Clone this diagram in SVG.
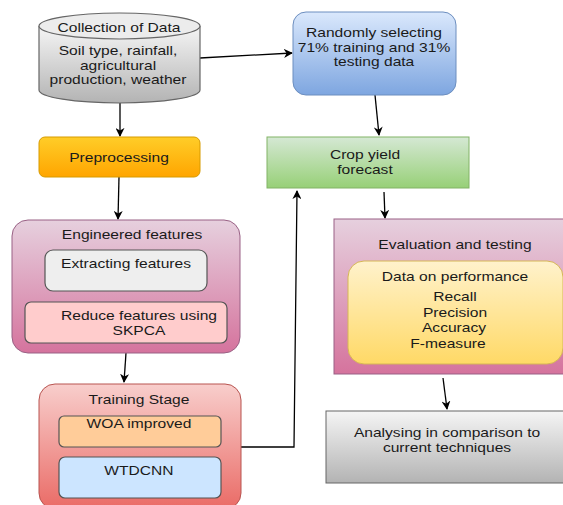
<svg xmlns="http://www.w3.org/2000/svg" width="563" height="505" viewBox="0 0 563 505">
<style>
text{font-family:"Liberation Sans",Arial,sans-serif;font-size:13px;fill:#1a1a1a;text-anchor:middle}
.c{fill:none;stroke:#000;stroke-width:1.3}
.in{stroke:#555;stroke-width:1.2}
</style>
<defs>
<marker id="ah" viewBox="0 0 10 10" refX="9" refY="5" markerWidth="9" markerHeight="9" markerUnits="userSpaceOnUse" orient="auto">
<path d="M0,0 L10,5 L0,10 L3,5 Z" fill="#000"/>
</marker>
<linearGradient id="gGray" x1="0" y1="0" x2="0" y2="1"><stop offset="0" stop-color="#f5f5f5"/><stop offset="1" stop-color="#b3b3b3"/></linearGradient>
<linearGradient id="gOrange" x1="0" y1="0" x2="0" y2="1"><stop offset="0" stop-color="#ffcd28"/><stop offset="1" stop-color="#ffa500"/></linearGradient>
<linearGradient id="gPink" x1="0" y1="0" x2="0" y2="1"><stop offset="0" stop-color="#e6d0de"/><stop offset="1" stop-color="#d5739d"/></linearGradient>
<linearGradient id="gRed" x1="0" y1="0" x2="0" y2="1"><stop offset="0" stop-color="#f8cecc"/><stop offset="1" stop-color="#ea6b66"/></linearGradient>
<linearGradient id="gBlue" x1="0" y1="0" x2="0" y2="1"><stop offset="0" stop-color="#dae8fc"/><stop offset="1" stop-color="#7ea6e0"/></linearGradient>
<linearGradient id="gGreen" x1="0" y1="0" x2="0" y2="1"><stop offset="0" stop-color="#d5e8d4"/><stop offset="1" stop-color="#97d077"/></linearGradient>
<linearGradient id="gYellow" x1="0" y1="0" x2="0" y2="1"><stop offset="0" stop-color="#fff2cc"/><stop offset="1" stop-color="#ffd966"/></linearGradient>
</defs>
<rect width="563" height="505" fill="#fff"/>

<g id="connectors">
<path class="c" d="M200,58 L292,53" marker-end="url(#ah)"/>
<path class="c" d="M120,103 L120,136" marker-end="url(#ah)"/>
<path class="c" d="M119,177 L118,219" marker-end="url(#ah)"/>
<path class="c" d="M126,353 L124,382" marker-end="url(#ah)"/>
<path class="c" d="M241,447 L294,447 L297,191" marker-end="url(#ah)"/>
<path class="c" d="M375,95 L379,135" marker-end="url(#ah)"/>
<path class="c" d="M384,192 L385,218" marker-end="url(#ah)"/>
<path class="c" d="M443,378 L447,409" marker-end="url(#ah)"/>
</g>

<g id="collection">
<path d="M39,26 L39,90 A80.5,13 0 0 0 200,90 L200,26" fill="url(#gGray)" stroke="#666" stroke-width="1.2"/>
<ellipse cx="119.5" cy="26" rx="80.5" ry="13" fill="#ececec" stroke="#666" stroke-width="1.2"/>
<text transform="translate(119,32) scale(1.2,1)">Collection of Data</text>
<text transform="translate(118,55) scale(1.2,1)">Soil type, rainfall,</text>
<text transform="translate(118,69.5) scale(1.2,1)">agricultural</text>
<text transform="translate(118,84) scale(1.2,1)">production, weather</text>
</g>

<g id="preprocessing">
<rect x="39" y="137" width="161" height="40" rx="6" fill="url(#gOrange)" stroke="#d79b00"/>
<text transform="translate(119,162) scale(1.2,1)">Preprocessing</text>
</g>

<g id="engineered">
<rect x="12" y="220" width="228" height="133" rx="16" fill="url(#gPink)" stroke="#996185"/>
<text transform="translate(132,239) scale(1.2,1)">Engineered features</text>
<rect class="in" x="45" y="250" width="162" height="41" rx="8" fill="#eeeeee"/>
<text transform="translate(126,268) scale(1.2,1)">Extracting features</text>
<rect class="in" x="25" y="302" width="202" height="41" rx="6" fill="#ffcccc"/>
<text transform="translate(139,320) scale(1.2,1)">Reduce features using</text>
<text transform="translate(139,335) scale(1.2,1)">SKPCA</text>
</g>

<g id="training">
<rect x="39" y="384" width="202" height="125" rx="16" fill="url(#gRed)" stroke="#b85450"/>
<text transform="translate(139,404) scale(1.2,1)">Training Stage</text>
<rect class="in" x="59" y="416" width="162" height="31" rx="5" fill="#ffcc99"/>
<text transform="translate(139,428) scale(1.2,1)">WOA improved</text>
<rect class="in" x="59" y="457" width="162" height="41" rx="6" fill="#cce5ff"/>
<text transform="translate(139,475) scale(1.2,1)">WTDCNN</text>
</g>

<g id="randomly">
<rect x="293" y="12" width="163" height="83" rx="13" fill="url(#gBlue)" stroke="#6c8ebf"/>
<text transform="translate(374,37) scale(1.2,1)">Randomly selecting</text>
<text transform="translate(374,51.5) scale(1.2,1)">71% training and 31%</text>
<text transform="translate(374,66) scale(1.2,1)">testing data</text>
</g>

<g id="crop">
<rect x="267" y="137" width="202" height="51" fill="url(#gGreen)" stroke="#82b366"/>
<text transform="translate(365,159) scale(1.2,1)">Crop yield</text>
<text transform="translate(365,174) scale(1.2,1)">forecast</text>
</g>

<g id="evaluation">
<rect x="334" y="219" width="232" height="155" fill="url(#gPink)" stroke="#996185"/>
<text transform="translate(455,249) scale(1.2,1)">Evaluation and testing</text>
<rect x="348" y="261" width="215" height="103" rx="16" fill="url(#gYellow)" stroke="#d6b656"/>
<text transform="translate(455,281) scale(1.2,1)">Data on performance</text>
<text transform="translate(455,301) scale(1.2,1)">Recall</text>
<text transform="translate(455,316.5) scale(1.2,1)">Precision</text>
<text transform="translate(454,332) scale(1.2,1)">Accuracy</text>
<text transform="translate(448,347.5) scale(1.2,1)">F-measure</text>
</g>

<g id="analysing">
<rect x="326" y="411" width="240" height="72" fill="url(#gGray)" stroke="#666"/>
<text transform="translate(447,437) scale(1.2,1)">Analysing in comparison to</text>
<text transform="translate(447,452) scale(1.2,1)">current techniques</text>
</g>
</svg>
